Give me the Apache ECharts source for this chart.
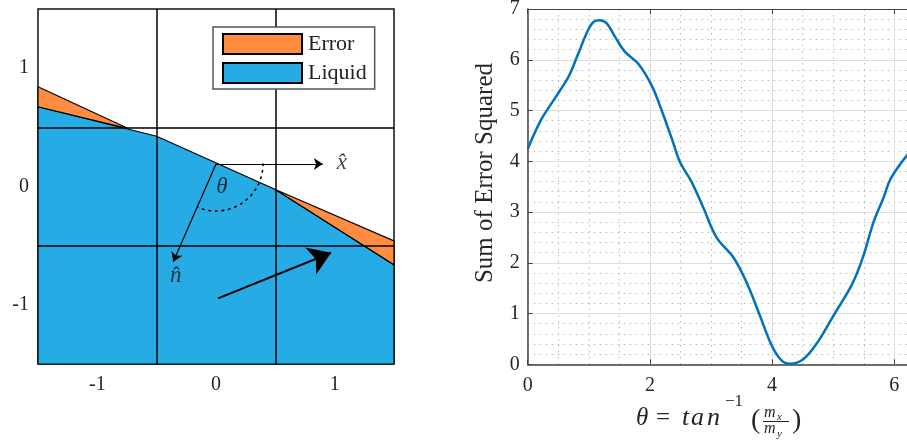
<!DOCTYPE html>
<html>
<head>
<meta charset="utf-8">
<script src="https://cdn.jsdelivr.net/npm/echarts@6/dist/echarts.min.js"></script>
<style>
  html, body { margin: 0; padding: 0; background: #fff; }
  #chart { width: 907px; height: 440px; }
</style>
</head>
<body>
<div id="chart"></div>
<script>
// left panel: cell geometry
const cellEdges = [-0.5, 0.5];
const leftTicks = [-1, 0, 1];
const liquidPoly = [[-1.5, -1.5], [-1.5, 0.674], [-0.5, 0.425], [0.5, -0.025], [1.5, -0.662], [1.5, -1.5]];
const errorLeft = [[-1.5, 0.843], [-0.74, 0.49], [-1.5, 0.674]];
const errorRight = [[0.5, -0.025], [1.5, -0.46], [1.5, -0.662]];

// right panel: sum of error squared vs theta
const thetaVals = [0, 0.22, 0.45, 0.67, 0.83, 0.99, 1.08, 1.18, 1.29, 1.43, 1.59, 1.81, 2.03, 2.19, 2.36, 2.49,
  2.68, 2.87, 3.09, 3.37, 3.58, 3.80, 3.99, 4.15, 4.29, 4.51, 4.73, 5.00, 5.31, 5.49, 5.66, 5.82,
  5.93, 6.09, 6.21, 6.283];
const errVals = [4.24, 4.82, 5.25, 5.67, 6.13, 6.59, 6.75, 6.78, 6.72, 6.45, 6.16, 5.92, 5.49, 5.01, 4.44, 3.99,
  3.60, 3.10, 2.50, 2.10, 1.62, 0.96, 0.38, 0.08, 0.01, 0.10, 0.41, 0.95, 1.58, 2.12, 2.80, 3.27,
  3.63, 3.93, 4.12, 4.24];

const serif = "'Liberation Serif', serif";
const txt = "#262626";

const chart = echarts.init(document.getElementById("chart"));

const polySeries = (name, poly, color) => ({
  type: "custom",
  name: name,
  xAxisIndex: 0,
  yAxisIndex: 0,
  z: 2,
  itemStyle: { color: color, borderColor: "#000", borderWidth: 1 },
  data: [poly[0]],
  renderItem: (params, api) => ({
    type: "polygon",
    shape: { points: poly.map((p) => api.coord(p)) },
    style: { fill: color, stroke: "#000", lineWidth: 1.2 },
  }),
});

const mathText = (x, y, text, font) => ({
  type: "text", x: x, y: y,
  style: { text: text, font: font, fill: txt, verticalAlign: "middle" },
});

const option = {
  animation: false,
  grid: [
    { left: 38, top: 9, width: 356, height: 355, show: true, borderColor: "#111", borderWidth: 1.5, outerBoundsMode: "none" },
    { left: 527.7, top: 9, width: 488.8, height: 355.3, outerBoundsMode: "none" },
  ],
  legend: {
    orient: "vertical",
    left: 213,
    top: 27,
    padding: [6, 8, 5, 9],
    itemWidth: 79,
    itemHeight: 20,
    itemGap: 7,
    borderColor: "#555",
    borderWidth: 1.5,
    backgroundColor: "#fff",
    selectedMode: false,
    data: [{ name: "Error", icon: "rect" }, { name: "Liquid", icon: "rect" }],
    textStyle: { fontFamily: serif, fontSize: 22, color: "#222", padding: [0, 0, 0, 1] },
  },
  xAxis: [
    {
      gridIndex: 0, type: "value", min: -1.5, max: 1.5,
      axisLine: { show: false },
      axisTick: { show: false },
      splitLine: { show: false },
      axisLabel: { customValues: leftTicks, margin: 11, fontFamily: serif, fontSize: 20, color: txt },
    },
    {
      gridIndex: 1, type: "value", min: 0, max: 8, interval: 2,
      axisLine: { show: true, onZero: false, lineStyle: { color: "#444", width: 1.5 } },
      axisTick: { inside: true, length: 5, lineStyle: { color: "#444" } },
      axisLabel: { margin: 11, fontFamily: serif, fontSize: 20, color: txt },
      splitLine: { show: true, lineStyle: { color: "#dedede", width: 1 } },
      minorTick: { show: false, splitNumber: 4 },
      minorSplitLine: { show: true, lineStyle: { color: "#b9b9b9", width: 1, type: [1.5, 4.5] } },
    },
    {
      gridIndex: 1, type: "value", min: 0, max: 8, interval: 2, position: "top",
      axisLine: { show: true, onZero: false, lineStyle: { color: "#444", width: 1 } },
      axisTick: { inside: true, length: 5, lineStyle: { color: "#444" } },
      axisLabel: { show: false },
      splitLine: { show: false },
    },
  ],
  yAxis: [
    {
      gridIndex: 0, type: "value", min: -1.5, max: 1.5,
      axisLine: { show: false },
      axisTick: { show: true, inside: true, length: 5, customValues: leftTicks, lineStyle: { color: "#333" } },
      splitLine: { show: false },
      axisLabel: { customValues: leftTicks, margin: 9, fontFamily: serif, fontSize: 20, color: txt },
    },
    {
      gridIndex: 1, type: "value", min: 0, max: 7, interval: 1,
      axisLine: { show: true, onZero: false, lineStyle: { color: "#444", width: 1.5 } },
      axisTick: { inside: true, length: 5, lineStyle: { color: "#444" } },
      axisLabel: { margin: 8, fontFamily: serif, fontSize: 20, color: txt },
      splitLine: { show: true, lineStyle: { color: "#dedede", width: 1 } },
      minorTick: { show: false, splitNumber: 5 },
      minorSplitLine: { show: true, lineStyle: { color: "#b9b9b9", width: 1, type: [1.5, 4.5] } },
    },
  ],
  graphic: [
    {
      type: "text", x: 485, y: 173, rotation: Math.PI / 2,
      style: { text: "Sum of Error Squared", font: "25px " + serif, fill: txt, align: "center", verticalAlign: "middle" },
    },
    mathText(636, 418, "θ", "italic 25px " + serif),
    mathText(656, 418, "=", "25px " + serif),
    mathText(682, 418, "t", "italic 26px " + serif),
    mathText(691, 418, "a", "italic 26px " + serif),
    mathText(707, 418, "n", "italic 26px " + serif),
    mathText(725, 402, "−1", "17px " + serif),
    mathText(751, 421, "(", "28px " + serif),
    mathText(764, 413, "m", "italic 16px " + serif),
    mathText(777, 417, "x", "italic 11px " + serif),
    { type: "line", shape: { x1: 763, y1: 421.5, x2: 789, y2: 421.5 }, style: { stroke: txt, lineWidth: 1 } },
    mathText(764, 429, "m", "italic 16px " + serif),
    mathText(777, 434, "y", "italic 11px " + serif),
    mathText(792, 421, ")", "28px " + serif),
  ],
  series: [
    polySeries("Liquid", liquidPoly, "#27abe4"),
    polySeries("Error", errorLeft, "#ff8c40"),
    {
      type: "custom",
      name: "ErrorRight",
      xAxisIndex: 0,
      yAxisIndex: 0,
      z: 2,
      data: [errorRight[0]],
      renderItem: (params, api) => ({
        type: "polygon",
        shape: { points: errorRight.map((p) => api.coord(p)) },
        style: { fill: "#ff8c40", stroke: "#000", lineWidth: 1.2 },
      }),
    },
    {
      // cell boundaries
      type: "lines",
      coordinateSystem: "cartesian2d",
      xAxisIndex: 0,
      yAxisIndex: 0,
      z: 3,
      lineStyle: { color: "#000", width: 1.5, opacity: 1 },
      data: cellEdges.flatMap((e) => [
        { coords: [[e, -1.5], [e, 1.5]] },
        { coords: [[-1.5, e], [1.5, e]] },
      ]),
    },
    {
      // x-hat and n-hat arrows
      type: "lines",
      coordinateSystem: "cartesian2d",
      xAxisIndex: 0,
      yAxisIndex: 0,
      z: 4,
      symbol: ["none", "arrow"],
      symbolSize: [0, 9],
      lineStyle: { color: "#000", width: 1.2, opacity: 1 },
      data: [
        { coords: [[0, 0.19], [0.9, 0.19]] },
        { coords: [[0, 0.19], [-0.36, -0.635]] },
      ],
    },
    {
      // big velocity arrow
      type: "lines",
      coordinateSystem: "cartesian2d",
      xAxisIndex: 0,
      yAxisIndex: 0,
      z: 4,
      symbol: ["none", "arrow"],
      symbolSize: [0, 22],
      lineStyle: { color: "#000", width: 2, opacity: 1 },
      data: [{ coords: [[0.017, -0.945], [0.97, -0.56]] }],
    },
    {
      // dotted angle arc
      type: "custom",
      xAxisIndex: 0,
      yAxisIndex: 0,
      z: 4,
      data: [[0, 0.19]],
      renderItem: (params, api) => {
        const c = api.coord([api.value(0), api.value(1)]);
        const r = api.size([0.396, 0])[0];
        return {
          type: "arc",
          shape: { cx: c[0], cy: c[1], r: r, startAngle: 0, endAngle: 1.97, clockwise: true },
          style: { stroke: "#000", fill: null, lineWidth: 1.6, lineDash: [1.6, 5], lineCap: "round" },
        };
      },
    },
    {
      type: "scatter",
      xAxisIndex: 0,
      yAxisIndex: 0,
      z: 5,
      symbolSize: 1,
      itemStyle: { color: "rgba(0,0,0,0)" },
      label: {
        show: true,
        position: "inside",
        formatter: (p) => p.data[2],
        fontFamily: serif,
        fontStyle: "italic",
        fontSize: 23,
        color: "#111",
      },
      data: [
        [1.06, 0.2, "x\u0302"],
        [-0.34, -0.76, "n\u0302"],
        [0.05, 0.0, "θ"],
      ],
    },
    {
      type: "line",
      xAxisIndex: 1,
      yAxisIndex: 1,
      smooth: 0.35,
      showSymbol: false,
      z: 5,
      lineStyle: { color: "#0072bd", width: 2.5 },
      data: thetaVals.map((t, i) => [t, errVals[i]]),
    },
  ],
};

chart.setOption(option);
</script>
</body>
</html>
